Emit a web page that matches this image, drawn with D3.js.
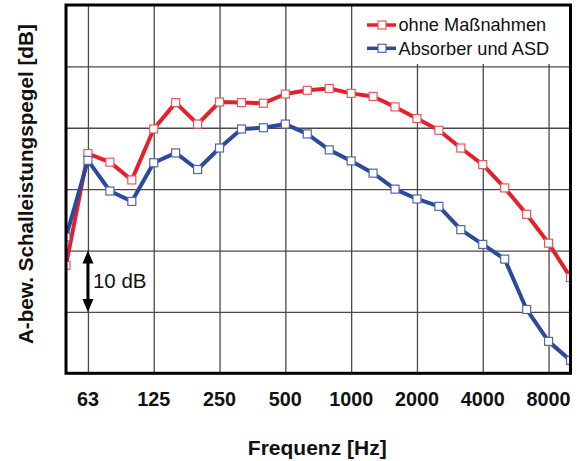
<!DOCTYPE html>
<html>
<head>
<meta charset="utf-8">
<script src="https://cdn.jsdelivr.net/npm/d3@7"></script>
<style>
  body { margin: 0; background: #fff; }
  text { font-family: Arial, "Liberation Sans", sans-serif; }
</style>
</head>
<body>
<svg id="chart" width="580" height="461"></svg>
<script>
// third-octave bands, 50 Hz .. 10 kHz
const bands = [50, 63, 80, 100, 125, 160, 200, 250, 315, 400, 500, 630, 800,
  1000, 1250, 1600, 2000, 2500, 3150, 4000, 5000, 6300, 8000, 10000];
const tickLabels = ['63', '125', '250', '500', '1000', '2000', '4000', '8000'];

// relative levels in dB (no absolute scale on the original)
const ohneMassnahmen = [17.6, 35.8, 34.4, 31.5, 39.8, 44.1, 40.6, 44.2, 44.1, 44.0, 45.5, 46.1,
  46.4, 45.6, 45.1, 43.4, 41.5, 39.6, 36.7, 34.0, 30.2, 25.9, 21.2, 15.6];
const absorberAsd = [22.2, 34.7, 29.7, 28.0, 34.3, 35.9, 33.2, 36.7, 39.8, 40.0, 40.6, 39.0,
  36.4, 34.6, 32.6, 30.0, 28.4, 27.2, 23.4, 21.0, 18.6, 10.4, 5.2, 2.1];

const series = [
  { name: 'ohne Maßnahmen', values: ohneMassnahmen, line: '#e4202b', mark: '#e5595e' },
  { name: 'Absorber und ASD', values: absorberAsd, line: '#2c4a9a', mark: '#5464ac' }
];

const svg = d3.select('#chart');
const m = { left: 66, right: 570.5, top: 5, bottom: 373.3 };

const x = d3.scaleLinear().domain([0, bands.length - 1]).range([m.left, m.right]);
const y = d3.scaleLinear().domain([0, 60]).range([m.bottom, m.top]);

svg.append('defs').append('clipPath').attr('id', 'plot')
  .append('rect')
  .attr('x', m.left).attr('y', m.top)
  .attr('width', m.right - m.left).attr('height', m.bottom - m.top);

// grid
const tickIdx = tickLabels.map((t) => bands.indexOf(+t));
svg.append('g')
  .attr('transform', `translate(0,${m.bottom})`)
  .call(d3.axisBottom(x).tickValues(tickIdx).tickSize(-(m.bottom - m.top)).tickFormat(''))
  .call((g) => g.select('.domain').remove())
  .call((g) => g.selectAll('line').attr('stroke', '#4a4a4a').attr('stroke-width', 1.3));

svg.append('g')
  .attr('transform', `translate(${m.left},0)`)
  .call(d3.axisLeft(y).tickValues([10, 20, 30, 40, 50]).tickSize(-(m.right - m.left)).tickFormat(''))
  .call((g) => g.select('.domain').remove())
  .call((g) => g.selectAll('line').attr('stroke', '#4a4a4a').attr('stroke-width', 1.3));

// x tick labels
svg.append('g').selectAll('text')
  .data(tickLabels)
  .join('text')
  .attr('x', (d) => x(bands.indexOf(+d)))
  .attr('y', 406)
  .attr('text-anchor', 'middle')
  .attr('font-size', 19.8)
  .attr('font-weight', 'bold')
  .attr('fill', '#111')
  .text((d) => d);

// 10 dB scale arrow
const ax = x(1);
const arrow = svg.append('g');
arrow.append('line')
  .attr('x1', ax).attr('x2', ax)
  .attr('y1', y(20) + 8).attr('y2', y(10) - 8)
  .attr('stroke', '#000').attr('stroke-width', 3);
arrow.append('path')
  .attr('d', `M${ax} ${y(20)} L${ax - 5.5} ${y(20) + 13} L${ax + 5.5} ${y(20) + 13} Z`)
  .attr('fill', '#000');
arrow.append('path')
  .attr('d', `M${ax} ${y(10)} L${ax - 5.5} ${y(10) - 13} L${ax + 5.5} ${y(10) - 13} Z`)
  .attr('fill', '#000');
arrow.append('text')
  .attr('x', ax + 5).attr('y', 288)
  .attr('font-size', 20.5)
  .attr('fill', '#111')
  .text('10 dB');

// series
const line = d3.line().x((d, i) => x(i)).y((d) => y(d));
const plot = svg.append('g').attr('clip-path', 'url(#plot)');
series.forEach((s) => {
  plot.append('path')
    .datum(s.values)
    .attr('d', line)
    .attr('fill', 'none')
    .attr('stroke', s.line)
    .attr('stroke-width', 4)
    .attr('stroke-linejoin', 'round');
  plot.selectAll(null)
    .data(s.values)
    .join('rect')
    .attr('x', (d, i) => x(i) - 4)
    .attr('y', (d) => y(d) - 4)
    .attr('width', 8).attr('height', 8)
    .attr('fill', '#fff')
    .attr('stroke', s.mark)
    .attr('stroke-width', 1.2);
});

// legend
const legend = svg.append('g');
legend.append('rect')
  .attr('x', 358).attr('y', m.top).attr('width', m.right - 358).attr('height', 59)
  .attr('fill', '#fff');
series.forEach((s, i) => {
  const ly = 25 + i * 23.3;
  legend.append('line')
    .attr('x1', 367).attr('x2', 396).attr('y1', ly).attr('y2', ly)
    .attr('stroke', s.line).attr('stroke-width', 3.5);
  legend.append('rect')
    .attr('x', 378).attr('y', ly - 4).attr('width', 8).attr('height', 8)
    .attr('fill', '#fff').attr('stroke', s.mark).attr('stroke-width', 1.2);
  legend.append('text')
    .attr('x', 398.5).attr('y', ly + 6.3)
    .attr('font-size', 18.2)
    .attr('fill', '#111')
    .text(s.name);
});

// frame
svg.append('rect')
  .attr('x', m.left).attr('y', m.top)
  .attr('width', m.right - m.left).attr('height', m.bottom - m.top)
  .attr('fill', 'none').attr('stroke', '#000').attr('stroke-width', 3);

// axis titles
svg.append('text')
  .attr('x', (m.left + m.right) / 2 - 1).attr('y', 455)
  .attr('text-anchor', 'middle')
  .attr('font-size', 21)
  .attr('font-weight', 'bold')
  .attr('fill', '#111')
  .text('Frequenz [Hz]');

svg.append('text')
  .attr('transform', `translate(33,${(m.top + m.bottom) / 2 - 5}) rotate(-90)`)
  .attr('text-anchor', 'middle')
  .attr('font-size', 20.7)
  .attr('font-weight', 'bold')
  .attr('fill', '#111')
  .text('A-bew. Schalleistungspegel [dB]');
</script>
</body>
</html>
